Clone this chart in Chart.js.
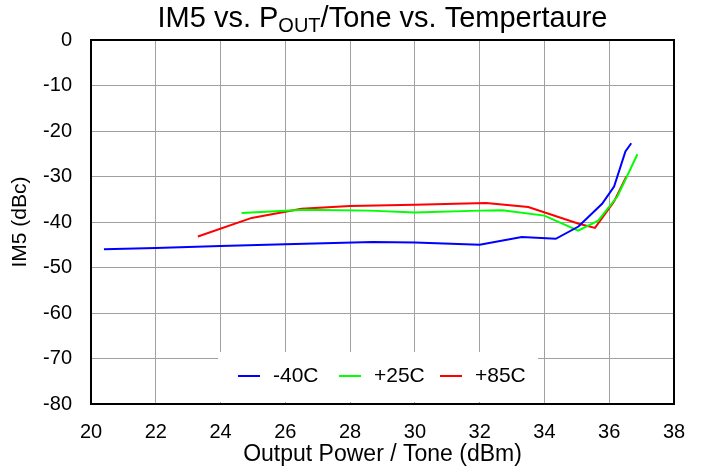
<!DOCTYPE html>
<html>
<head>
<meta charset="utf-8">
<script src="https://cdn.jsdelivr.net/npm/chart.js@4.4.1/dist/chart.umd.min.js"></script>
<style>
  body { margin: 0; background: #fff; }
  #wrap { width: 703px; height: 471px; }
</style>
</head>
<body>
<div id="wrap"><canvas id="im5-chart"></canvas></div>
<script>
// Data
const seriesNames = ['-40C', '+25C', '+85C'];
const seriesColors = ['#0000ff', '#00ff00', '#ff0000'];

const poutM40 = [20.4, 22.0, 24.0, 26.0, 28.7, 30.0, 32.0, 33.3, 34.35, 35.05, 35.78, 36.15, 36.5, 36.68];
const im5M40  = [-46.0, -45.7, -45.3, -44.9, -44.4, -44.5, -45.0, -43.3, -43.7, -41.0, -36.0, -32.2, -24.5, -22.7];

const poutP25 = [24.65, 26.6, 28.6, 30.0, 32.0, 32.7, 34.0, 35.04, 35.66, 36.25, 36.5, 36.87];
const im5P25  = [-38.0, -37.3, -37.5, -37.9, -37.5, -37.4, -38.6, -41.9, -39.7, -34.4, -30.7, -25.1];

const poutP85 = [23.3, 24.96, 26.5, 28.0, 30.0, 32.2, 33.5, 35.06, 35.56, 36.15, 36.53];
const im5P85  = [-43.2, -39.1, -37.1, -36.5, -36.2, -35.8, -36.7, -40.4, -41.3, -35.5, -30.0];

const xTicksMin = 20, xTicksMax = 38, xStep = 2;
const yTicksMin = -80, yTicksMax = 0, yStep = 10;

const pouts = [poutM40, poutP25, poutP85];
const im5s = [im5M40, im5P25, im5P85];

function toPoints(xs, ys) {
    return xs.map((x, i) => ({ x: x, y: ys[i] }));
}

const FONT = '"Liberation Sans", Arial, sans-serif';

// title with subscript OUT
const titlePlugin = {
    id: 'subTitle',
    afterDraw(chart) {
        const ctx = chart.ctx;
        const area = chart.chartArea;
        const parts = [
            { t: 'IM5 vs. P', size: 29, dy: 0 },
            { t: 'OUT', size: 20, dy: 5 },
            { t: '/Tone vs. Tempertaure', size: 29, dy: 0 }
        ];
        ctx.save();
        ctx.fillStyle = '#000';
        ctx.textBaseline = 'alphabetic';
        ctx.textAlign = 'left';
        let total = 0;
        parts.forEach(p => {
            ctx.font = p.size + 'px ' + FONT;
            p.w = ctx.measureText(p.t).width;
            total += p.w;
        });
        let x = (area.left + area.right) / 2 - total / 2;
        const base = 27;
        parts.forEach(p => {
            ctx.font = p.size + 'px ' + FONT;
            ctx.fillText(p.t, x, base + p.dy);
            x += p.w;
        });
        // frame around the plot
        ctx.strokeStyle = '#000';
        ctx.lineWidth = 2;
        ctx.strokeRect(area.left, area.top, area.right - area.left, area.bottom - area.top);
        ctx.restore();
    }
};

// legend inside the plot, white box over the grid
const boxLegend = {
    id: 'boxLegend',
    beforeDatasetsDraw(chart) {
        const ctx = chart.ctx;
        const a = chart.chartArea;
        const bx = a.left + 127, by = a.bottom - 52, bw = 320, bh = 50;
        ctx.save();
        ctx.fillStyle = '#fff';
        ctx.fillRect(bx, by, bw, bh);
        ctx.font = '21px ' + FONT;
        ctx.textBaseline = 'middle';
        ctx.textAlign = 'left';
        const cy = by + 24;
        chart.data.datasets.forEach((ds, i) => {
            const lx = bx + 20 + i * 101;
            ctx.strokeStyle = ds.borderColor;
            ctx.lineWidth = 2;
            ctx.beginPath();
            ctx.moveTo(lx, cy);
            ctx.lineTo(lx + 22, cy);
            ctx.stroke();
            ctx.fillStyle = '#000';
            ctx.fillText(ds.label, lx + 35, cy);
        });
        ctx.restore();
    }
};

document.addEventListener('DOMContentLoaded', () => {
    const ctx = document.getElementById('im5-chart').getContext('2d');

    const datasets = seriesNames.map((name, i) => ({
        label: name,
        data: toPoints(pouts[i], im5s[i]),
        borderColor: seriesColors[i],
        backgroundColor: seriesColors[i],
        borderWidth: 2,
        pointRadius: 0,
        tension: 0,
        fill: false
    }));

    new Chart(ctx, {
        type: 'line',
        data: { datasets: datasets },
        options: {
            responsive: true,
            maintainAspectRatio: false,
            animation: false,
            layout: { padding: { top: 40, right: 29, left: 0, bottom: 0 } },
            plugins: {
                legend: { display: false },
                title: { display: false },
                tooltip: { enabled: false }
            },
            scales: {
                x: {
                    type: 'linear',
                    min: xTicksMin,
                    max: xTicksMax,
                    ticks: {
                        stepSize: xStep,
                        color: '#000',
                        font: { family: FONT, size: 20 },
                        padding: 16,
                        maxRotation: 0
                    },
                    grid: { color: '#a0a0a0', lineWidth: 1, drawTicks: false },
                    border: { color: '#000', width: 2 },
                    title: {
                        display: true,
                        text: 'Output Power / Tone (dBm)',
                        color: '#000',
                        font: { family: FONT, size: 23 },
                        padding: { top: 0, bottom: 3 }
                    },
                    afterFit(scale) { scale.height = 67; }
                },
                y: {
                    min: yTicksMin,
                    max: yTicksMax,
                    ticks: {
                        stepSize: yStep,
                        color: '#000',
                        font: { family: FONT, size: 20 },
                        padding: 19
                    },
                    grid: { color: '#a0a0a0', lineWidth: 1, drawTicks: false },
                    border: { color: '#000', width: 2 },
                    title: {
                        display: true,
                        text: 'IM5 (dBc)',
                        color: '#000',
                        font: { family: FONT, size: 21 },
                        padding: { top: 8, bottom: 0 }
                    },
                    afterFit(scale) { scale.width = 91; }
                }
            }
        },
        plugins: [boxLegend, titlePlugin]
    });
});
</script>
</body>
</html>
